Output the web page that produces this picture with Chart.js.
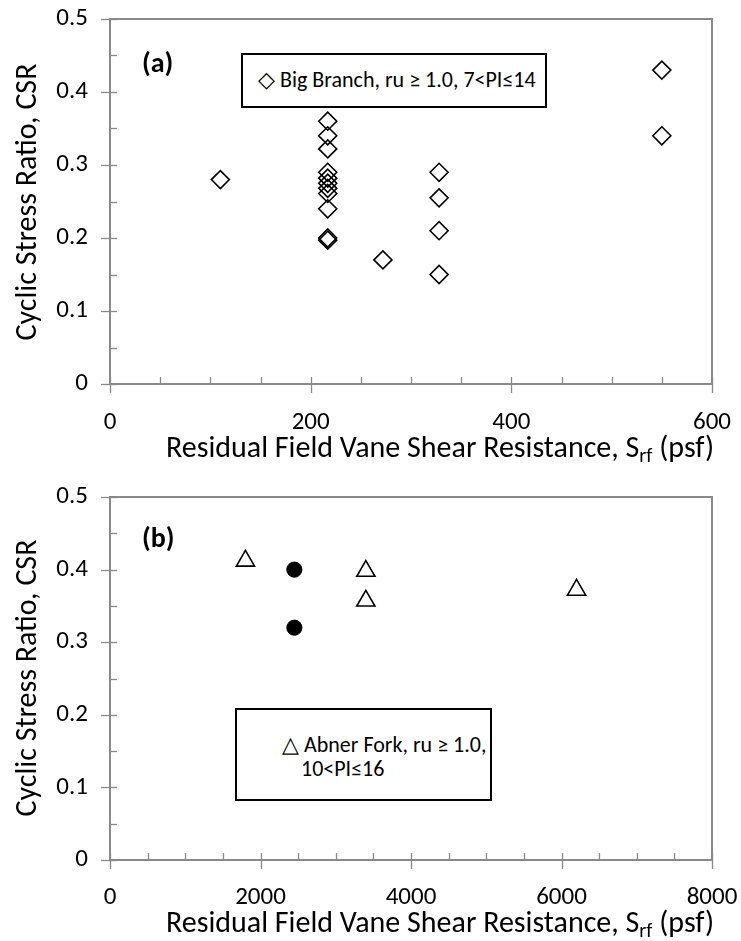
<!DOCTYPE html>
<html><head><meta charset="utf-8">
<script src="https://cdn.jsdelivr.net/npm/chart.js@4.4.1/dist/chart.umd.min.js"></script>
<style>
html,body{margin:0;padding:0;background:#fff;}
body{width:741px;height:941px;position:relative;overflow:hidden;font-family:Carlito,Lato,sans-serif;}
.cv{position:absolute;left:0;}
.txt{position:absolute;white-space:nowrap;color:#000;font-size:22px;line-height:1;}
.box{position:absolute;border:2px solid #000;background:#fff;box-sizing:border-box;}
.ytitle{position:absolute;white-space:nowrap;font-size:30px;line-height:1;transform:translate(-50%,-50%) rotate(-90deg);}
.xtitle{position:absolute;white-space:nowrap;font-size:30px;line-height:1;transform:translate(-50%,-50%);}
sub{font-size:20px;vertical-align:-5px;line-height:0;}
</style></head><body>
<div class="cv" style="top:0;width:741px;height:470px"><canvas id="ca" width="741" height="470"></canvas></div>
<div class="cv" style="top:470px;width:741px;height:471px"><canvas id="cb" width="741" height="471"></canvas></div>

<div class="txt" style="left:142px;top:49px;font-weight:bold;font-size:28px;">(a)</div>
<div class="box" style="left:241px;top:53px;width:306px;height:55px;"></div>
<div class="txt" style="left:258px;top:69px;">◇ Big Branch, ru ≥ 1.0, 7&lt;PI≤14</div>
<div class="ytitle" style="left:26px;top:202px;">Cyclic Stress Ratio, CSR</div>
<div class="xtitle" style="left:440px;top:447px;">Residual Field Vane Shear Resistance, S<sub>rf</sub> (psf)</div>

<div class="txt" style="left:142px;top:524px;font-weight:bold;font-size:28px;">(b)</div>
<div class="box" style="left:235px;top:708px;width:257px;height:93px;"></div>
<div class="txt" style="left:282px;top:734px;">△ Abner Fork, ru ≥ 1.0,</div>
<div class="txt" style="left:301px;top:758px;">10&lt;PI≤16</div>
<div class="ytitle" style="left:26px;top:678px;">Cyclic Stress Ratio, CSR</div>
<div class="xtitle" style="left:440px;top:922px;">Residual Field Vane Shear Resistance, S<sub>rf</sub> (psf)</div>

<script>
// ---- data ----
const bigBranchSrf = [110, 217, 217, 217, 217, 217, 217, 217, 217, 217, 217, 217, 272, 328, 328, 328, 328, 550, 550];
const bigBranchCSR = [0.28, 0.36, 0.34, 0.322, 0.29, 0.282, 0.275, 0.268, 0.261, 0.24, 0.2, 0.197, 0.17, 0.29, 0.255, 0.21, 0.15, 0.43, 0.34];
const abnerOpenSrf = [1800, 3400, 3400, 6200];
const abnerOpenCSR = [0.412, 0.398, 0.357, 0.372];
const abnerFilledSrf = [2450, 2450];
const abnerFilledCSR = [0.40, 0.32];
const xTicksA = [0, 200, 400, 600];
const xTicksB = [0, 2000, 4000, 6000, 8000];
const yTicks = [0, 0.1, 0.2, 0.3, 0.4, 0.5];

const FONT = 'Carlito, Lato, sans-serif';
const GRAY = '#898989';

function pts(xs, ys){ return xs.map((x,i)=>({x:x, y:ys[i]})); }

const frame = {
  id: 'frame',
  afterDatasetsDraw(chart, args, o){
    const {ctx, chartArea:a, scales} = chart;
    const x = scales.x, y = scales.y;
    ctx.save();
    ctx.strokeStyle = GRAY;
    ctx.lineWidth = 2;
    ctx.strokeRect(a.left, a.top, a.right - a.left, a.bottom - a.top);
    ctx.lineWidth = 1.3;
    const isMajor = (v, step) => Math.abs(v/step - Math.round(v/step)) < 1e-6;
    const nx = Math.round((x.max - x.min)/o.xMinor);
    for (let i = 0; i <= nx; i++){
      const v = x.min + i*o.xMinor;
      const px = Math.round(x.getPixelForValue(v)) + 0.5;
      const mj = isMajor(v, o.xMajor);
      ctx.beginPath(); ctx.moveTo(px, a.bottom - 7); ctx.lineTo(px, a.bottom + (mj ? 9 : 0)); ctx.stroke();
    }
    const ny = Math.round((y.max - y.min)/o.yMinor);
    for (let i = 0; i <= ny; i++){
      const v = y.min + i*o.yMinor;
      const py = Math.round(y.getPixelForValue(v)) + 0.5;
      const mj = isMajor(v, o.yMajor);
      ctx.beginPath(); ctx.moveTo(a.left - (mj ? 9 : 0), py); ctx.lineTo(a.left + 7, py); ctx.stroke();
    }
    ctx.restore();
  }
};

function makeChart(id, datasets, xMax, xTicks, xMinor, geom){
  const h = geom.h;
  return new Chart(document.getElementById(id), {
    type: 'scatter',
    data: { datasets: datasets },
    options: {
      responsive: false,
      maintainAspectRatio: false,
      animation: false,
      events: [],
      layout: { padding: { left: 0, right: 741 - geom.right, top: geom.top, bottom: 0 } },
      plugins: { legend: { display: false }, tooltip: { enabled: false }, frame: { xMinor: xMinor, xMajor: xTicks[1], yMinor: 0.05, yMajor: 0.1 } },
      scales: {
        x: {
          type: 'linear', min: 0, max: xMax,
          afterBuildTicks: s => { s.ticks = xTicks.map(v => ({value: v})); },
          afterFit: s => { s.height = h - geom.bottom; s.paddingLeft = 0; s.paddingRight = 0; s.paddingTop = 0; s.paddingBottom = 0; },
          grid: { display: false, drawTicks: false, tickLength: 0 },
          border: { display: false },
          ticks: { color: '#000', font: { family: FONT, size: 25 }, padding: geom.xpad, maxRotation: 0, autoSkip: false, callback: v => String(v) }
        },
        y: {
          type: 'linear', min: 0, max: 0.5,
          afterBuildTicks: s => { s.ticks = yTicks.map(v => ({value: v})); },
          afterFit: s => { s.width = geom.left; s.paddingLeft = 0; s.paddingRight = 0; s.paddingTop = 0; s.paddingBottom = 0; },
          grid: { display: false, drawTicks: false, tickLength: 0 },
          border: { display: false },
          ticks: { color: '#000', font: { family: FONT, size: 25 }, padding: 22, callback: v => String(Math.round(v*10)/10) }
        }
      }
    },
    plugins: [frame]
  });
}

makeChart('ca', [
  { data: pts(bigBranchSrf, bigBranchCSR), pointStyle: 'rectRot', pointRadius: 9, borderColor: '#000', borderWidth: 1.6, backgroundColor: 'rgba(0,0,0,0)' }
], 600, xTicksA, 50, { h: 470, left: 110, right: 712, top: 19, bottom: 384, xpad: 24 });

makeChart('cb', [
  { data: pts(abnerOpenSrf, abnerOpenCSR), pointStyle: 'triangle', pointRadius: 10.5, borderColor: '#000', borderWidth: 1.6, backgroundColor: 'rgba(0,0,0,0)' },
  { data: pts(abnerFilledSrf, abnerFilledCSR), pointStyle: 'circle', pointRadius: 7.6, borderColor: '#000', borderWidth: 1, backgroundColor: '#000' }
], 8000, xTicksB, 500, { h: 471, left: 110, right: 712, top: 27, bottom: 390, xpad: 23 });
</script>
</body></html>
